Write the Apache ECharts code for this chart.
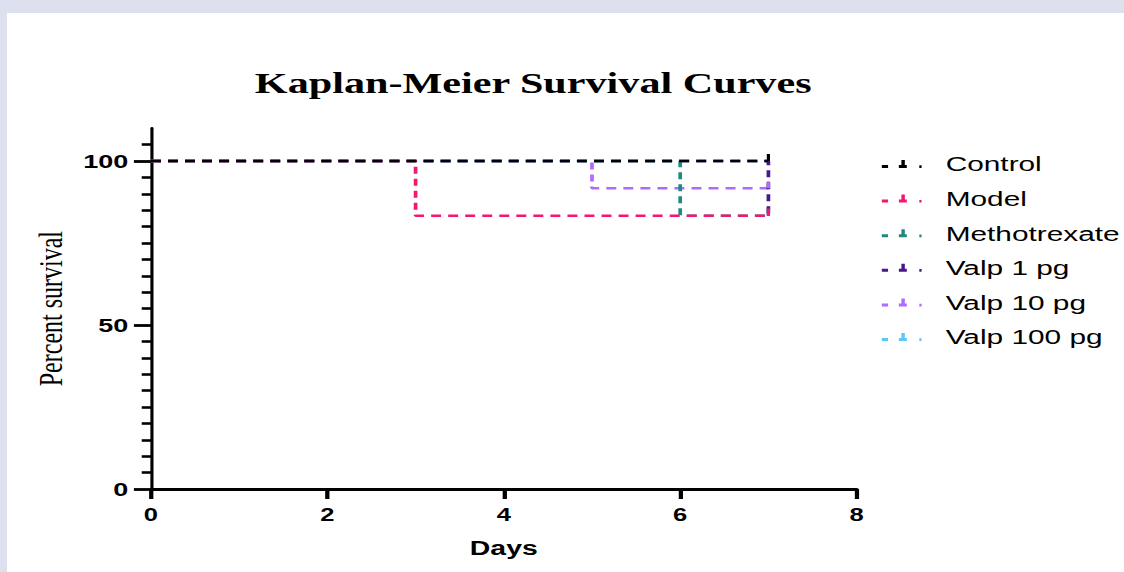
<!DOCTYPE html>
<html>
<head>
<meta charset="utf-8">
<script src="https://cdn.jsdelivr.net/npm/echarts@6/dist/echarts.min.js"></script>
<style>
  html, body { margin: 0; padding: 0; width: 1124px; height: 572px; overflow: hidden; background: #dde0ef; }
  #panel { position: absolute; left: 7px; top: 13px; right: 0; bottom: 0; background: #ffffff; }
  #chart { position: absolute; left: 0; top: 0; height: 572px; transform-origin: 0 0; }
</style>
</head>
<body>
<div id="panel"></div>
<div id="chart"></div>
<script>
// ---- data ----
const seriesNames = ['Control', 'Model', 'Methotrexate', 'Valp 1 pg', 'Valp 10 pg', 'Valp 100 pg'];
const seriesColors = ['#000000', '#f5166e', '#1f8a82', '#4a158e', '#b06aff', '#5cc8f5'];
const controlDays = [0, 7];
const controlSurvival = [100, 100];
const modelDays = [0, 3, 7];
const modelSurvival = [100, 83.33, 83.33];
const methotrexateDays = [0, 6, 7];
const methotrexateSurvival = [100, 83.33, 83.33];
const valp1Days = [0, 7];
const valp1Survival = [100, 83.33];
const valp10Days = [0, 5, 7];
const valp10Survival = [100, 91.67, 91.67];
const valp100Days = [0, 7];
const valp100Survival = [100, 100];
const xTicks = [0, 2, 4, 6, 8];
const yMajorTicks = [0, 50, 100];
const yMinorTicks = [5, 10, 15, 20, 25, 30, 35, 40, 45, 55, 60, 65, 70, 75, 80, 85, 90, 95, 105];

// ---- layout ----
const S = 1.42;                 // horizontal stretch of the reference image
const W = 1124 / S;
const chartEl = document.getElementById('chart');
chartEl.style.width = W + 'px';
chartEl.style.transform = 'scaleX(' + S + ')';

const allDays = [controlDays, modelDays, methotrexateDays, valp1Days, valp10Days, valp100Days];
const allSurv = [controlSurvival, modelSurvival, methotrexateSurvival, valp1Survival, valp10Survival, valp100Survival];

function buildData(days, surv) {
  return days.map((d, i) => {
    if (i === days.length - 1) {
      return { value: [d, surv[i]], symbol: 'rect', symbolSize: [2.2, 7], symbolOffset: [0, -3.5] };
    }
    return [d, surv[i]];
  });
}

const series = [];
for (let k = seriesNames.length - 1; k >= 0; k--) {
  series.push({
    name: seriesNames[k],
    type: 'line',
    step: 'end',
    symbol: 'none',
    showSymbol: true,
    color: seriesColors[k],
    itemStyle: { color: seriesColors[k] },
    lineStyle: { color: seriesColors[k], width: 2.6, type: [7, 5] },
    data: buildData(allDays[k], allSurv[k]),
    silent: true
  });
}

const iconPath = 'path://M0,5H4.4V8H0Z M12,5H17.6V8H12Z M13.8,0H16.2V8H13.8Z M26.4,5.3H28V8H26.4Z';

const chart = echarts.init(chartEl, null, { renderer: 'svg' });
chart.setOption({
  animation: false,
  backgroundColor: 'transparent',
  title: {
    text: 'Kaplan-Meier Survival Curves',
    left: 370.5,
    textAlign: 'center',
    top: 63,
    textStyle: { fontFamily: 'Liberation Serif', fontWeight: 'bold', fontSize: 29.7, color: '#000' }
  },
  legend: {
    orient: 'vertical',
    left: 616,
    top: 148,
    data: seriesNames,
    icon: iconPath,
    itemWidth: 28,
    itemHeight: 8,
    itemGap: 12.6,
    itemStyle: { borderWidth: 0 },
    selectedMode: false,
    textStyle: { fontFamily: 'Liberation Sans', fontSize: 21, color: '#000', lineHeight: 22, padding: [0, 0, 0, 12] }
  },
  grid: { left: 106.3, right: W - 602.8, top: 128.2, bottom: 83, containLabel: false },
  xAxis: {
    type: 'value',
    min: 0, max: 8, interval: 2,
    name: 'Days',
    nameLocation: 'middle',
    nameGap: 49,
    nameTextStyle: { fontFamily: 'Liberation Sans', fontWeight: 'bold', fontSize: 20, color: '#000' },
    axisLine: { show: true, lineStyle: { color: '#000', width: 3 } },
    axisTick: { show: true, length: 10, lineStyle: { color: '#000', width: 3 } },
    axisLabel: { margin: 17, fontFamily: 'Liberation Sans', fontWeight: 'bold', fontSize: 18, color: '#000',
                 customValues: xTicks },
    splitLine: { show: false }
  },
  yAxis: [{
    type: 'value',
    min: 0, max: 110, interval: 50,
    name: 'Percent survival',
    nameLocation: 'middle',
    nameGap: 57,
    nameTextStyle: { fontFamily: 'Liberation Serif', fontSize: 24, color: '#000' },
    axisLine: { show: true, lineStyle: { color: '#000', width: 2.2 } },
    axisTick: { show: true, length: 12, customValues: yMajorTicks, lineStyle: { color: '#000', width: 2.8 } },
    axisLabel: { margin: 16, fontFamily: 'Liberation Sans', fontWeight: 'bold', fontSize: 19, color: '#000',
                 customValues: yMajorTicks },
    splitLine: { show: false }
  }, {
    type: 'value',
    position: 'left',
    min: 0, max: 110, interval: 5,
    axisLine: { show: false },
    axisTick: { show: true, length: 6.5, customValues: yMinorTicks, lineStyle: { color: '#000', width: 2.6 } },
    axisLabel: { show: false },
    splitLine: { show: false }
  }],
  series: series
});
</script>
</body>
</html>
